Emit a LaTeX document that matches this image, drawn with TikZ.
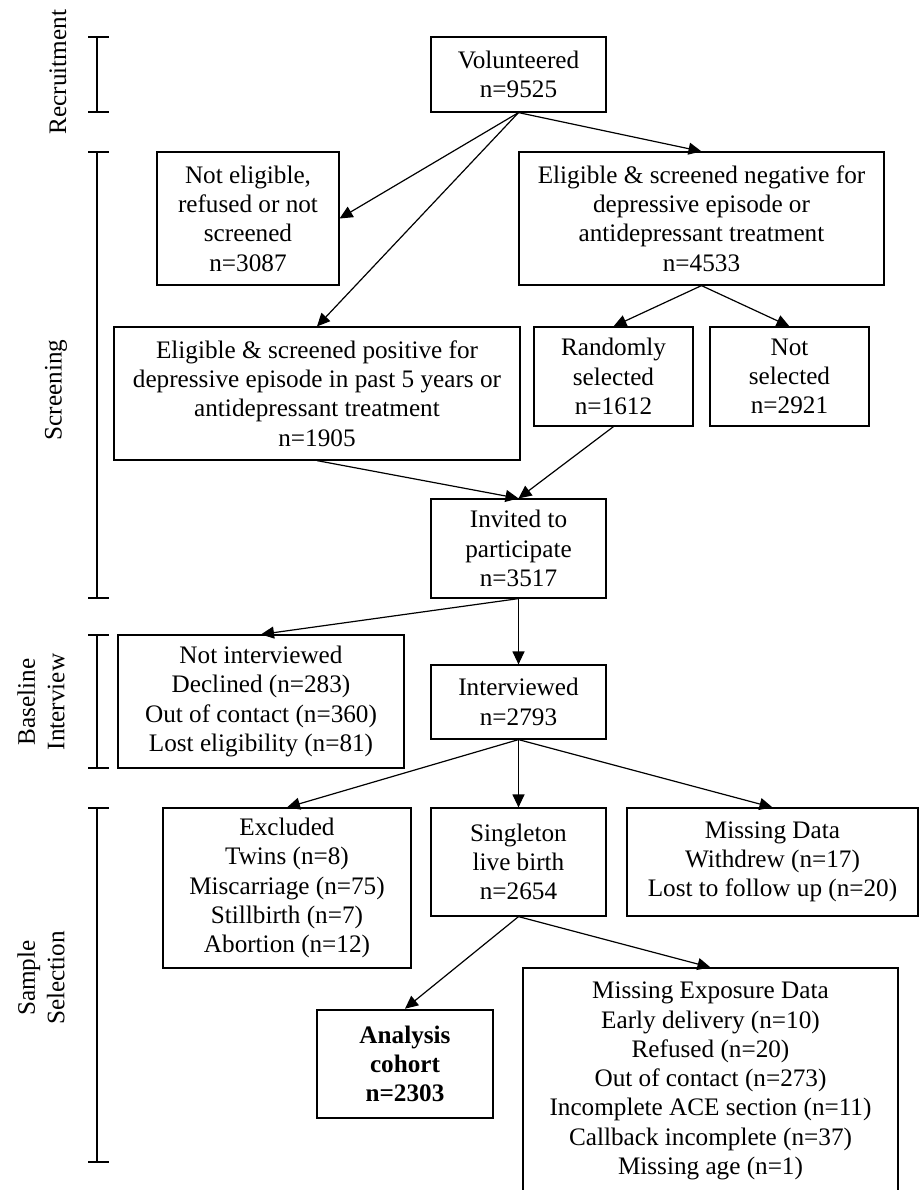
\documentclass[tikz,border=0pt]{standalone}
\usepackage{fontspec}
\setmainfont{Liberation Serif}
\usetikzlibrary{arrows.meta}

\begin{document}
\begin{tikzpicture}[x=0.5pt, y=-0.5pt,
    box/.style 2 args={draw, line width=0.6pt, align=center, inner sep=0pt,
        minimum width=#1*0.5pt, minimum height=#2*0.5pt,
        font=\fontsize{12.6pt}{14.65pt}\selectfont},
    flow/.style={line width=0.6pt, -{Triangle[length=6.5pt, width=6pt]}},
    phase/.style={rotate=90, align=center, font=\fontsize{12.6pt}{14.65pt}\selectfont}]
    % page frame
    \useasboundingbox (0,0) rectangle (920,1190);

    % phase brackets on the left
    \foreach \top/\bot/\nm in {37/112/rec, 152/598/scr, 635/768/base, 808/1162/samp}
        {\draw[line width=0.6pt] (88,\top) -- (109,\top) (97,\top) -- (97,\bot) (88,\bot) -- (109,\bot);
         \coordinate (\nm) at (97,{(\top+\bot)/2});}
    \node[phase] (lrec) at (58,72) {Recruitment};
    \node[phase] (lscr) at (56,390) {Screening};
    \node[phase] (lbase) at (41,702) {Baseline\\Interview};
    \node[phase] (lsamp) at (41,978) {Sample\\Selection};

    % boxes
    \node[box={175}{75}] (vol) at (518.5,74.5) {Volunteered\\n=9525};
    \node[box={182}{133}] (notel) at (248,218.5) {Not eligible,\\refused or not\\screened\\n=3087};
    \node[box={365}{133}] (neg) at (701.5,218.5) {Eligible \& screened negative for\\depressive episode or\\antidepressant treatment\\n=4533};
    \node[box={406}{133}] (pos) at (317,393.5) {Eligible \& screened positive for\\depressive episode in past 5 years or\\antidepressant treatment\\n=1905};
    \node[box={159}{99}] (rand) at (613.5,376.5) {Randomly\\selected\\n=1612};
    \node[box={159}{99}] (notsel) at (789.5,376.5) {Not\\selected\\n=2921};
    \node[box={175}{99}] (inv) at (518.5,548.5) {Invited to\\participate\\n=3517};
    \node[box={286}{133}] (notint) at (261,701.5) {Not interviewed\\Declined (n=283)\\Out of contact (n=360)\\Lost eligibility (n=81)};
    \node[box={175}{74}] (int) at (518.5,702) {Interviewed\\n=2793};
    \node[box={248}{160}] (excl) at (287,888) {Excluded\\Twins (n=8)\\Miscarriage (n=75)\\Stillbirth (n=7)\\Abortion (n=12)};
    \node[box={175}{108}] (single) at (518.5,862) {Singleton\\live birth\\n=2654};
    \node[box={291}{108}] (missd) at (772.5,862) {Missing Data\\Withdrew (n=17)\\Lost to follow up (n=20)};
    \node[box={176}{108}, line width=1.3pt, font=\fontsize{12.6pt}{14.65pt}\selectfont\bfseries] (cohort) at (405,1064) {Analysis\\cohort\\n=2303};
    \node[box={375}{226}] (misse) at (710.5,1081) {Missing Exposure Data\\Early delivery (n=10)\\Refused (n=20)\\Out of contact (n=273)\\Incomplete ACE section (n=11)\\Callback incomplete (n=37)\\Missing age (n=1)};

    % connectors
    \draw[flow] (vol.south) -- (notel.east);
    \draw[flow] (vol.south) -- (pos.north);
    \draw[flow] (vol.south) -- (neg.north);
    \draw[flow] (neg.south) -- (rand.north);
    \draw[flow] (neg.south) -- (notsel.north);
    \draw[flow] (pos.south) -- (inv.north);
    \draw[flow] (rand.south) -- (inv.north);
    \draw[flow] (inv.south) -- (notint.north);
    \draw[flow] (inv.south) -- (int.north);
    \draw[flow] (int.south) -- (excl.north);
    \draw[flow] (int.south) -- (single.north);
    \draw[flow] (int.south) -- (missd.north);
    \draw[flow] (single.south) -- (cohort.north);
    \draw[flow] (single.south) -- (misse.north);
\end{tikzpicture}
\end{document}
